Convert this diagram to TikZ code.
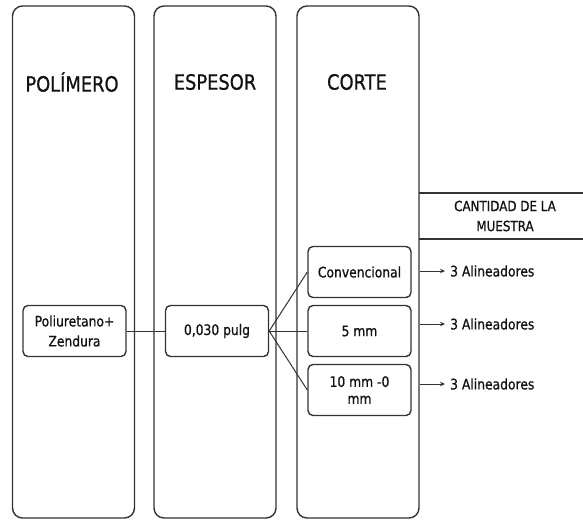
\documentclass[tikz,border=0pt]{standalone}
\usepackage{fontspec}
\setmainfont[FakeStretch=0.85,FakeBold=0.8]{DejaVu Sans}
\usetikzlibrary{arrows.meta}
\definecolor{ln}{HTML}{333333}
\definecolor{tx}{HTML}{111111}
\begin{document}
\begin{tikzpicture}[x=1pt,y=-1pt,
  colbox/.style={draw=ln,line width=1.4pt,rounded corners=10pt,minimum width=122pt,minimum height=512pt,inner sep=0pt},
  title/.style={font=\fontsize{21}{24}\selectfont,text=tx},
  itembox/.style={draw=ln,line width=1.4pt,rounded corners=5pt,minimum width=103pt,minimum height=51pt,inner sep=1pt,align=center,font=\fontsize{14.5}{20}\selectfont,text=tx},
  conn/.style={draw=ln,line width=1pt},
  arr/.style={draw=ln,line width=1pt,-{Stealth[length=5pt,width=4.5pt]}},
  small/.style={font=\fontsize{14.5}{18}\selectfont,text=tx,inner sep=0pt,anchor=west}
]
\useasboundingbox (0,0) rectangle (583,520);
\node[colbox] (c1) at (73.5,262) {};
\node[colbox] (c2) at (215,262) {};
\node[colbox] (c3) at (358,262) {};
\node[title] (t1) at (72,82) {POLÍMERO};
\node[title] (t2) at (215,82) {ESPESOR};
\node[title] (t3) at (357,82) {CORTE};
% cantidad
\coordinate (q1) at (419,193);
\coordinate (q2) at (583,193);
\coordinate (q3) at (419,239);
\coordinate (q4) at (583,239);
\draw[conn,line width=1.2pt] (q1) -- (q2);
\draw[conn,line width=1.2pt] (q3) -- (q4);
\node[align=center,font=\fontsize{14}{20}\selectfont,text=tx] (cant) at (505,216) {CANTIDAD DE LA\\MUESTRA};
% items
\node[itembox] (pol) at (74.5,331) {Poliuretano+\\Zendura};
\node[itembox] (esp) at (217,331) {0,030 pulg};
\node[itembox] (conv) at (359.5,272) {Convencional};
\node[itembox] (mm5) at (359.5,331) {5 mm};
\node[itembox,font=\fontsize{14.5}{17}\selectfont] (mm10) at (359.5,390) {10 mm -0\\mm};
\draw[conn] (pol.east) -- (esp.west);
\draw[conn] (esp.east) -- (conv.west);
\draw[conn] (esp.east) -- (mm5.west);
\draw[conn] (esp.east) -- (mm10.west);
% arrows
\node[small] (a1) at (450,271) {3 Alineadores};
\node[small] (a2) at (450,324) {3 Alineadores};
\node[small] (a3) at (450,384) {3 Alineadores};
\draw[arr,shorten >=5pt] (c3.east |- a1.west) -- (a1.west);
\draw[arr,shorten >=5pt] (c3.east |- a2.west) -- (a2.west);
\draw[arr,shorten >=5pt] (c3.east |- a3.west) -- (a3.west);
\end{tikzpicture}
\end{document}
